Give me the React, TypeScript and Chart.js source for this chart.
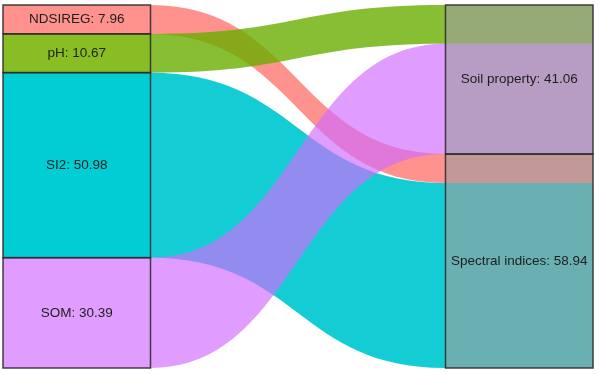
import { useEffect, useRef } from 'react';
import { Chart, registerables } from 'chart.js';

Chart.register(...registerables);

// ---- data ----
const sourceNames = ['NDSIREG', 'pH', 'SI2', 'SOM'];
const targetNames = ['Soil property', 'Spectral indices'];
const flowFrom = ['NDSIREG', 'pH', 'SI2', 'SOM'];
const flowTo = ['Spectral indices', 'Soil property', 'Spectral indices', 'Soil property'];
const flowValues = [7.96, 10.67, 50.98, 30.39];
const axisPositions = [1, 2];

// ---- styles ----
const sourceFill = ['#ff928c', '#88be24', '#00cdd4', '#e09cff'];
const flowColors = [
  'rgba(255,119,111,0.8)',
  'rgba(106,174,0,0.8)',
  'rgba(0,201,208,0.92)',
  'rgba(209,107,255,0.67)',
];
const targetFill = 'rgba(158,158,158,0.62)';
const strokeColor = 'rgba(45,45,45,0.9)';
const STRATUM_WIDTH = 1 / 3;

function sum(a: number[]) {
  return a.reduce((s, v) => s + v, 0);
}

export default function App() {
  const ref = useRef<HTMLCanvasElement | null>(null);

  useEffect(() => {
    document.body.style.margin = '0';
    const canvas = ref.current;
    if (!canvas) return;

    const sourceTotals = sourceNames.map((n) =>
      sum(flowValues.filter((_, i) => flowFrom[i] === n))
    );
    const targetTotals = targetNames.map((n) =>
      sum(flowValues.filter((_, i) => flowTo[i] === n))
    );
    const total = sum(flowValues);

    const sourceStart: number[] = [];
    let acc = 0;
    sourceTotals.forEach((v) => {
      sourceStart.push(acc);
      acc += v;
    });
    const targetStart: number[] = [];
    acc = 0;
    targetTotals.forEach((v) => {
      targetStart.push(acc);
      acc += v;
    });

    const srcCursor = sourceStart.slice();
    const flowSrc: [number, number][] = [];
    sourceNames.forEach((n, si) => {
      targetNames.forEach((t) => {
        flowValues.forEach((v, i) => {
          if (flowFrom[i] === n && flowTo[i] === t) {
            flowSrc[i] = [srcCursor[si], srcCursor[si] + v];
            srcCursor[si] += v;
          }
        });
      });
    });
    const tgtCursor = targetStart.slice();
    const flowTgt: [number, number][] = [];
    targetNames.forEach((t, ti) => {
      sourceNames.forEach((n) => {
        flowValues.forEach((v, i) => {
          if (flowFrom[i] === n && flowTo[i] === t) {
            flowTgt[i] = [tgtCursor[ti], tgtCursor[ti] + v];
            tgtCursor[ti] += v;
          }
        });
      });
    });

    const half = STRATUM_WIDTH / 2;
    const thickness = (c: any) => {
      const xs = c.chart.scales.x;
      if (!xs) return 147;
      return xs.getPixelForValue(axisPositions[0] + half) - xs.getPixelForValue(axisPositions[0] - half);
    };

    const datasets: any[] = [];
    sourceNames.forEach((n, i) => {
      datasets.push({
        label: n,
        data: [{ x: axisPositions[0], y: [sourceStart[i], sourceStart[i] + sourceTotals[i]] }],
        backgroundColor: sourceFill[i],
        borderWidth: 0,
        grouped: false,
        barThickness: thickness,
      });
    });
    targetNames.forEach((n, i) => {
      datasets.push({
        label: n,
        data: [{ x: axisPositions[1], y: [targetStart[i], targetStart[i] + targetTotals[i]] }],
        backgroundColor: targetFill,
        borderWidth: 0,
        grouped: false,
        barThickness: thickness,
      });
    });

    const flowPlugin = {
      id: 'flows',
      beforeDatasetsDraw(chart: any) {
        const { ctx } = chart;
        const xs = chart.scales.x;
        const ys = chart.scales.y;
        const x0l = xs.getPixelForValue(axisPositions[0] - half);
        const x0r = xs.getPixelForValue(axisPositions[0] + half);
        const x1l = xs.getPixelForValue(axisPositions[1] - half);
        const x1r = xs.getPixelForValue(axisPositions[1] + half);
        const xm = (x0r + x1l) / 2;
        ctx.save();
        flowValues.forEach((_, i) => {
          const ya = ys.getPixelForValue(flowSrc[i][0]);
          const yb = ys.getPixelForValue(flowSrc[i][1]);
          const yc = ys.getPixelForValue(flowTgt[i][0]);
          const yd = ys.getPixelForValue(flowTgt[i][1]);
          ctx.beginPath();
          ctx.moveTo(x0l, ya);
          ctx.lineTo(x0r, ya);
          ctx.bezierCurveTo(xm, ya, xm, yc, x1l, yc);
          ctx.lineTo(x1r, yc);
          ctx.lineTo(x1r, yd);
          ctx.lineTo(x1l, yd);
          ctx.bezierCurveTo(xm, yd, xm, yb, x0r, yb);
          ctx.lineTo(x0l, yb);
          ctx.closePath();
          ctx.fillStyle = flowColors[i];
          ctx.fill();
        });
        ctx.restore();
      },
      afterDatasetsDraw(chart: any) {
        const { ctx } = chart;
        const xs = chart.scales.x;
        const ys = chart.scales.y;
        ctx.save();
        ctx.lineWidth = 1.5;
        ctx.strokeStyle = strokeColor;
        ctx.font = '13.5px "Liberation Sans", Arial, sans-serif';
        ctx.fillStyle = '#1e1e1e';
        ctx.textAlign = 'center';
        ctx.textBaseline = 'middle';
        const drawNode = (xPos: number, start: number, value: number, label: string) => {
          const xl = xs.getPixelForValue(xPos - half);
          const xr = xs.getPixelForValue(xPos + half);
          const yt = ys.getPixelForValue(start);
          const yb = ys.getPixelForValue(start + value);
          ctx.strokeRect(xl, yt, xr - xl, yb - yt);
          ctx.fillText(`${label}: ${value.toFixed(2)}`, (xl + xr) / 2, (yt + yb) / 2);
        };
        sourceNames.forEach((n, i) => drawNode(axisPositions[0], sourceStart[i], sourceTotals[i], n));
        targetNames.forEach((n, i) => drawNode(axisPositions[1], targetStart[i], targetTotals[i], n));
        ctx.restore();
      },
    };

    const chart = new Chart(canvas, {
      type: 'bar',
      data: { datasets },
      options: {
        animation: false,
        responsive: false,
        devicePixelRatio: 1,
        layout: { padding: { left: 3, right: 7, top: 5, bottom: 6 } },
        plugins: { legend: { display: false }, tooltip: { enabled: false } },
        scales: {
          x: {
            type: 'linear',
            display: false,
            offset: false,
            bounds: 'data',
            min: axisPositions[0] - half,
            max: axisPositions[1] + half,
          },
          y: {
            type: 'linear',
            display: false,
            bounds: 'data',
            reverse: true,
            min: 0,
            max: total,
          },
        },
      },
      plugins: [flowPlugin],
    } as any);

    return () => chart.destroy();
  }, []);

  return (
    <div style={{ width: 600, height: 374 }}>
      <canvas ref={ref} width={600} height={374} />
    </div>
  );
}
